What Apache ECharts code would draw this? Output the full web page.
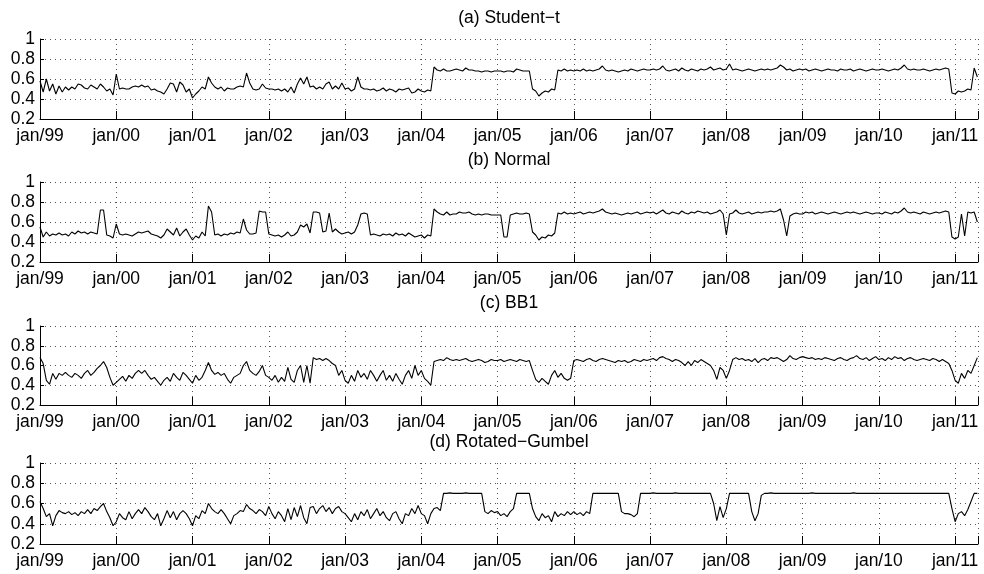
<!DOCTYPE html>
<html>
<head>
<meta charset="utf-8">
<script src="https://cdn.jsdelivr.net/npm/echarts@6/dist/echarts.min.js"></script>
<style>
  html, body { margin: 0; padding: 0; background: #fff; }
  #chart { width: 984px; height: 574px; }
</style>
</head>
<body>
<div id="chart"></div>
<script>
// Half-monthly dependence estimates, Jan 1999 – Apr 2011.
const FIRST_YEAR = 1999;
const POINTS_PER_YEAR = 24;
const LAST_X = 2011.30;

const yearLabels = ['jan/99', 'jan/00', 'jan/01', 'jan/02', 'jan/03', 'jan/04', 'jan/05',
                    'jan/06', 'jan/07', 'jan/08', 'jan/09', 'jan/10', 'jan/11'];
const panelTitles = ['(a) Student\u2212t', '(b) Normal', '(c) BB1', '(d) Rotated\u2212Gumbel'];
const Y_MIN = 0.2, Y_MAX = 1, Y_STEP = 0.2;

const studentT = [
  /* 1999 */ 0.58, 0.47, 0.6, 0.48, 0.55, 0.45, 0.53, 0.47, 0.52, 0.49, 0.52, 0.5, 0.55, 0.54, 0.51, 0.5, 0.54, 0.52, 0.5, 0.55, 0.52, 0.48, 0.5, 0.44,
  /* 2000 */ 0.65, 0.5, 0.51, 0.5, 0.5, 0.52, 0.53, 0.52, 0.54, 0.52, 0.53, 0.49, 0.5, 0.48, 0.47, 0.45, 0.5, 0.56, 0.55, 0.47, 0.57, 0.54, 0.47, 0.5,
  /* 2001 */ 0.41, 0.45, 0.48, 0.52, 0.5, 0.62, 0.56, 0.52, 0.5, 0.52, 0.48, 0.51, 0.5, 0.5, 0.52, 0.53, 0.52, 0.66, 0.56, 0.5, 0.49, 0.5, 0.55, 0.51,
  /* 2002 */ 0.5, 0.5, 0.49, 0.5, 0.48, 0.5, 0.47, 0.52, 0.46, 0.55, 0.61, 0.55, 0.62, 0.52, 0.53, 0.5, 0.52, 0.5, 0.55, 0.57, 0.5, 0.53, 0.5, 0.56,
  /* 2003 */ 0.5, 0.51, 0.48, 0.5, 0.62, 0.52, 0.5, 0.5, 0.49, 0.5, 0.48, 0.49, 0.51, 0.48, 0.5, 0.49, 0.47, 0.5, 0.49, 0.5, 0.51, 0.46, 0.47, 0.5,
  /* 2004 */ 0.48, 0.47, 0.49, 0.48, 0.72, 0.69, 0.68, 0.7, 0.68, 0.68, 0.69, 0.7, 0.69, 0.68, 0.71, 0.69, 0.69, 0.68, 0.68, 0.67, 0.68, 0.68, 0.67, 0.68,
  /* 2005 */ 0.68, 0.68, 0.67, 0.68, 0.68, 0.67, 0.7, 0.69, 0.68, 0.68, 0.68, 0.5, 0.48, 0.43, 0.46, 0.48, 0.47, 0.5, 0.49, 0.69, 0.68, 0.7, 0.68, 0.69,
  /* 2006 */ 0.68, 0.69, 0.68, 0.7, 0.68, 0.69, 0.68, 0.69, 0.7, 0.73, 0.69, 0.68, 0.69, 0.68, 0.67, 0.68, 0.69, 0.68, 0.7, 0.69, 0.68, 0.69, 0.7, 0.69,
  /* 2007 */ 0.69, 0.7, 0.69, 0.7, 0.73, 0.69, 0.68, 0.69, 0.7, 0.68, 0.71, 0.69, 0.68, 0.7, 0.69, 0.68, 0.7, 0.69, 0.7, 0.72, 0.69, 0.7, 0.71, 0.69,
  /* 2008 */ 0.7, 0.75, 0.69, 0.7, 0.69, 0.68, 0.69, 0.7, 0.69, 0.68, 0.69, 0.7, 0.69, 0.7, 0.69, 0.7, 0.71, 0.74, 0.72, 0.69, 0.7, 0.68, 0.69, 0.7,
  /* 2009 */ 0.69, 0.7, 0.68, 0.69, 0.7, 0.69, 0.68, 0.69, 0.7, 0.69, 0.69, 0.68, 0.7, 0.69, 0.69, 0.7, 0.68, 0.69, 0.7, 0.69, 0.68, 0.69, 0.7, 0.69,
  /* 2010 */ 0.69, 0.7, 0.69, 0.68, 0.69, 0.7, 0.69, 0.71, 0.74, 0.7, 0.69, 0.7, 0.69, 0.69, 0.7, 0.69, 0.68, 0.69, 0.7, 0.69, 0.7, 0.71, 0.7, 0.46,
  /* 2011 */ 0.45, 0.48, 0.47, 0.48, 0.5, 0.49, 0.71, 0.62
];

const normal = [
  /* 1999 */ 0.55, 0.45, 0.5, 0.46, 0.48, 0.47, 0.49, 0.47, 0.48, 0.46, 0.5, 0.48, 0.51, 0.49, 0.5, 0.48, 0.5, 0.49, 0.48, 0.72, 0.72, 0.47, 0.46, 0.44,
  /* 2000 */ 0.58, 0.48, 0.47, 0.48, 0.47, 0.46, 0.48, 0.5, 0.49, 0.5, 0.51, 0.48, 0.47, 0.46, 0.44, 0.47, 0.53, 0.5, 0.47, 0.54, 0.46, 0.5, 0.53, 0.47,
  /* 2001 */ 0.42, 0.46, 0.44, 0.5, 0.46, 0.76, 0.7, 0.47, 0.48, 0.46, 0.48, 0.47, 0.49, 0.48, 0.5, 0.49, 0.63, 0.52, 0.48, 0.48, 0.49, 0.71, 0.7, 0.7,
  /* 2002 */ 0.48, 0.47, 0.46, 0.47, 0.45, 0.47, 0.5, 0.46, 0.47, 0.5, 0.57, 0.55, 0.58, 0.49, 0.7, 0.7, 0.69, 0.5, 0.51, 0.69, 0.5, 0.53, 0.5, 0.48,
  /* 2003 */ 0.49, 0.5, 0.48, 0.5, 0.57, 0.68, 0.69, 0.68, 0.47, 0.48, 0.47, 0.46, 0.48, 0.47, 0.48, 0.46, 0.49, 0.47, 0.48, 0.46, 0.49, 0.47, 0.45, 0.46,
  /* 2004 */ 0.47, 0.44, 0.47, 0.46, 0.73, 0.7, 0.68, 0.67, 0.7, 0.67, 0.68, 0.68, 0.7, 0.69, 0.69, 0.7, 0.68, 0.67, 0.68, 0.67, 0.68, 0.68, 0.67, 0.67,
  /* 2005 */ 0.67, 0.67, 0.45, 0.45, 0.67, 0.68, 0.69, 0.68, 0.68, 0.69, 0.68, 0.5, 0.47, 0.42, 0.45, 0.44, 0.47, 0.46, 0.49, 0.69, 0.68, 0.7, 0.68, 0.69,
  /* 2006 */ 0.68, 0.69, 0.7, 0.68, 0.69, 0.7, 0.69, 0.7, 0.71, 0.73, 0.7, 0.69, 0.68, 0.69, 0.68, 0.67, 0.68, 0.69, 0.68, 0.69, 0.7, 0.68, 0.69, 0.7,
  /* 2007 */ 0.69, 0.7, 0.68, 0.7, 0.72, 0.69, 0.68, 0.7, 0.69, 0.68, 0.71, 0.69, 0.68, 0.7, 0.69, 0.71, 0.7, 0.69, 0.7, 0.68, 0.69, 0.7, 0.72, 0.68,
  /* 2008 */ 0.47, 0.68, 0.69, 0.72, 0.69, 0.68, 0.69, 0.7, 0.68, 0.69, 0.7, 0.69, 0.7, 0.7, 0.71, 0.7, 0.71, 0.73, 0.62, 0.46, 0.66, 0.68, 0.69, 0.68,
  /* 2009 */ 0.68, 0.7, 0.69, 0.7, 0.68, 0.69, 0.7, 0.69, 0.68, 0.69, 0.7, 0.69, 0.68, 0.69, 0.7, 0.69, 0.7, 0.69, 0.68, 0.69, 0.7, 0.69, 0.68, 0.69,
  /* 2010 */ 0.69, 0.68, 0.7, 0.69, 0.68, 0.7, 0.69, 0.71, 0.74, 0.7, 0.69, 0.7, 0.69, 0.68, 0.7, 0.69, 0.68, 0.69, 0.7, 0.69, 0.7, 0.71, 0.7, 0.45,
  /* 2011 */ 0.43, 0.45, 0.68, 0.46, 0.7, 0.69, 0.7, 0.6
];

const bb1 = [
  /* 1999 */ 0.68, 0.62, 0.45, 0.41, 0.52, 0.46, 0.52, 0.5, 0.53, 0.5, 0.48, 0.52, 0.5, 0.47, 0.52, 0.55, 0.5, 0.53, 0.57, 0.6, 0.64, 0.58, 0.48, 0.4,
  /* 2000 */ 0.43, 0.46, 0.49, 0.44, 0.5, 0.47, 0.52, 0.55, 0.52, 0.55, 0.5, 0.46, 0.48, 0.44, 0.4, 0.45, 0.48, 0.44, 0.52, 0.48, 0.45, 0.53, 0.5, 0.46,
  /* 2001 */ 0.42, 0.5, 0.45, 0.48, 0.55, 0.63, 0.55, 0.51, 0.53, 0.5, 0.52, 0.46, 0.42, 0.48, 0.5, 0.52, 0.6, 0.64, 0.55, 0.52, 0.5, 0.54, 0.6, 0.5,
  /* 2002 */ 0.48, 0.45, 0.5, 0.43, 0.48, 0.44, 0.58, 0.46, 0.43, 0.55, 0.6, 0.43, 0.6, 0.42, 0.68, 0.66, 0.67, 0.65, 0.67, 0.65, 0.62, 0.6, 0.5, 0.55,
  /* 2003 */ 0.45, 0.42, 0.5, 0.44, 0.55, 0.48, 0.52, 0.46, 0.55, 0.5, 0.44, 0.5, 0.55, 0.45, 0.5, 0.44, 0.52, 0.46, 0.41, 0.5, 0.55, 0.47, 0.6, 0.5,
  /* 2004 */ 0.55, 0.47, 0.44, 0.4, 0.64, 0.65, 0.66, 0.65, 0.68, 0.66, 0.65, 0.66, 0.65, 0.66, 0.67, 0.65, 0.64, 0.65, 0.66, 0.65, 0.63, 0.64, 0.66, 0.65,
  /* 2005 */ 0.65, 0.66, 0.64, 0.65, 0.66, 0.65, 0.64, 0.66, 0.65, 0.64, 0.65, 0.55, 0.46, 0.43, 0.47, 0.44, 0.41, 0.5, 0.55, 0.48, 0.52, 0.47, 0.45, 0.47,
  /* 2006 */ 0.65, 0.66, 0.65, 0.64, 0.66, 0.67, 0.65, 0.64, 0.66, 0.67, 0.66, 0.65, 0.64, 0.63, 0.65, 0.64, 0.65, 0.63, 0.64, 0.66, 0.65, 0.64, 0.66, 0.65,
  /* 2007 */ 0.66, 0.67, 0.65, 0.68, 0.69, 0.67, 0.66, 0.64, 0.66, 0.65, 0.63, 0.6, 0.64, 0.6, 0.65, 0.63, 0.66, 0.64, 0.62, 0.6, 0.55, 0.46, 0.58, 0.55,
  /* 2008 */ 0.47, 0.55, 0.66, 0.68, 0.66, 0.67, 0.65, 0.66, 0.64, 0.67, 0.63, 0.66, 0.67, 0.65, 0.68, 0.67, 0.68, 0.66, 0.64, 0.66, 0.7, 0.67, 0.66, 0.68,
  /* 2009 */ 0.69, 0.68, 0.67, 0.68, 0.66, 0.67, 0.66, 0.68, 0.67, 0.66, 0.65, 0.67, 0.68, 0.66, 0.65, 0.67, 0.68, 0.7, 0.67, 0.66, 0.68, 0.65, 0.67, 0.69,
  /* 2010 */ 0.66, 0.67, 0.65, 0.68, 0.66, 0.69, 0.67, 0.68, 0.65, 0.67, 0.68, 0.66, 0.65, 0.66, 0.67, 0.66, 0.65, 0.67, 0.66, 0.64, 0.66, 0.64, 0.62, 0.55,
  /* 2011 */ 0.45, 0.42, 0.52, 0.47, 0.55, 0.52, 0.6, 0.68
];

const rotatedGumbel = [
  /* 1999 */ 0.62, 0.55, 0.47, 0.5, 0.38, 0.48, 0.53, 0.51, 0.5, 0.52, 0.49, 0.51, 0.48, 0.52, 0.5, 0.54, 0.5, 0.55, 0.53, 0.57, 0.6, 0.52, 0.46, 0.38,
  /* 2000 */ 0.42, 0.5, 0.46, 0.44, 0.52, 0.45, 0.5, 0.54, 0.5, 0.56, 0.52, 0.47, 0.44, 0.5, 0.38, 0.45, 0.53, 0.46, 0.52, 0.44, 0.5, 0.53, 0.5, 0.45,
  /* 2001 */ 0.38, 0.48, 0.45, 0.53, 0.5, 0.6, 0.55, 0.52, 0.5, 0.54, 0.5, 0.45, 0.4, 0.48, 0.5, 0.53, 0.52, 0.59, 0.55, 0.53, 0.5, 0.54, 0.52, 0.48,
  /* 2002 */ 0.57, 0.5, 0.45, 0.52, 0.48, 0.42, 0.55, 0.44, 0.56, 0.47, 0.58, 0.46, 0.4, 0.56, 0.57, 0.5, 0.55, 0.58, 0.52, 0.56, 0.5, 0.55, 0.57, 0.52,
  /* 2003 */ 0.5, 0.46, 0.42, 0.5, 0.44, 0.52, 0.48, 0.54, 0.45, 0.5, 0.55, 0.48, 0.52, 0.46, 0.43, 0.5, 0.52, 0.45, 0.4, 0.5, 0.48, 0.55, 0.5, 0.58,
  /* 2004 */ 0.5, 0.48, 0.4, 0.5, 0.55, 0.56, 0.53, 0.7, 0.7, 0.705, 0.7, 0.7, 0.7, 0.7, 0.705, 0.7, 0.7, 0.7, 0.7, 0.7, 0.52, 0.5, 0.53, 0.51,
  /* 2005 */ 0.52, 0.48, 0.5, 0.47, 0.52, 0.55, 0.7, 0.7, 0.7, 0.7, 0.7, 0.55, 0.47, 0.43, 0.5, 0.46, 0.48, 0.42, 0.52, 0.47, 0.5, 0.48, 0.52, 0.49,
  /* 2006 */ 0.52, 0.49, 0.51, 0.48, 0.52, 0.5, 0.7, 0.7, 0.7, 0.7, 0.7, 0.7, 0.7, 0.7, 0.7, 0.52, 0.5, 0.5, 0.49, 0.47, 0.5, 0.7, 0.7, 0.7,
  /* 2007 */ 0.7, 0.705, 0.7, 0.7, 0.7, 0.7, 0.7, 0.7, 0.705, 0.7, 0.7, 0.7, 0.7, 0.7, 0.7, 0.7, 0.7, 0.7, 0.7, 0.7, 0.6, 0.43, 0.57, 0.46,
  /* 2008 */ 0.55, 0.7, 0.7, 0.7, 0.7, 0.7, 0.7, 0.7, 0.52, 0.43, 0.5, 0.68, 0.7, 0.7, 0.705, 0.7, 0.7, 0.7, 0.7, 0.7, 0.7, 0.7, 0.7, 0.7,
  /* 2009 */ 0.7, 0.7, 0.7, 0.705, 0.7, 0.7, 0.7, 0.7, 0.7, 0.7, 0.7, 0.7, 0.7, 0.7, 0.7, 0.7, 0.705, 0.7, 0.7, 0.7, 0.7, 0.7, 0.7, 0.7,
  /* 2010 */ 0.7, 0.7, 0.7, 0.7, 0.7, 0.7, 0.7, 0.7, 0.7, 0.7, 0.7, 0.7, 0.7, 0.7, 0.7, 0.7, 0.7, 0.7, 0.7, 0.7, 0.7, 0.7, 0.7, 0.55,
  /* 2011 */ 0.42, 0.5, 0.52, 0.48, 0.54, 0.62, 0.7, 0.7
];

const panelSeries = [studentT, normal, bb1, rotatedGumbel];

// Panel geometry (pixels)
const PLOT_LEFT = 40, PLOT_WIDTH = 938, TITLE_X = 509;
const panels = [
  { top: 39,  height: 80, titleY: 18 },
  { top: 182, height: 80, titleY: 160 },
  { top: 326, height: 79, titleY: 303 },
  { top: 463, height: 81, titleY: 442 }
];

const FONT_FAMILY = '"Liberation Sans", Arial, Helvetica, sans-serif';
const FONT_SIZE = 17.5;
const gridDots = { type: [1, 4], color: '#555', width: 1 };

function yearLabel(v) {
  const r = Math.round(v);
  if (Math.abs(v - r) > 1e-6) return '';
  return yearLabels[r - FIRST_YEAR] || '';
}

const option = {
  animation: false,
  backgroundColor: '#fff',
  grid: panels.map(p => ({ left: PLOT_LEFT, top: p.top, width: PLOT_WIDTH, height: p.height, containLabel: false })),
  xAxis: panels.map((p, i) => ({
    gridIndex: i,
    type: 'value',
    min: FIRST_YEAR,
    max: LAST_X,
    interval: 1,
    axisLine: { show: true, onZero: false, lineStyle: { color: '#000', width: 1 } },
    axisTick: { show: true, inside: true, length: 8, lineStyle: { color: '#000', width: 1 } },
    axisLabel: {
      show: true, margin: 8, color: '#000',
      fontFamily: FONT_FAMILY, fontSize: FONT_SIZE,
      formatter: yearLabel
    },
    splitLine: { show: true, lineStyle: gridDots }
  })),
  yAxis: panels.map((p, i) => ({
    gridIndex: i,
    type: 'value',
    min: Y_MIN,
    max: Y_MAX,
    interval: Y_STEP,
    axisLine: { show: true, onZero: false, lineStyle: { color: '#000', width: 1 } },
    axisTick: { show: true, inside: true, length: 4, lineStyle: { color: '#000', width: 1 } },
    axisLabel: {
      show: true, margin: 5, color: '#000',
      fontFamily: FONT_FAMILY, fontSize: FONT_SIZE
    },
    splitLine: { show: true, lineStyle: gridDots }
  })),
  series: panelSeries.map((vals, i) => ({
    type: 'line',
    xAxisIndex: i,
    yAxisIndex: i,
    data: vals.map((v, k) => [FIRST_YEAR + k / POINTS_PER_YEAR, v]),
    showSymbol: false,
    symbol: 'none',
    silent: true,
    clip: true,
    lineStyle: { color: '#000', width: 1.1 }
  })),
  graphic: panels.map((p, i) => ({
    type: 'text',
    x: TITLE_X,
    y: p.titleY,
    silent: true,
    style: {
      text: panelTitles[i],
      fill: '#000',
      font: FONT_SIZE + 'px ' + FONT_FAMILY,
      align: 'center',
      verticalAlign: 'middle'
    }
  }))
};

const chart = echarts.init(document.getElementById('chart'), null, { renderer: 'canvas' });
chart.setOption(option);
</script>
</body>
</html>
